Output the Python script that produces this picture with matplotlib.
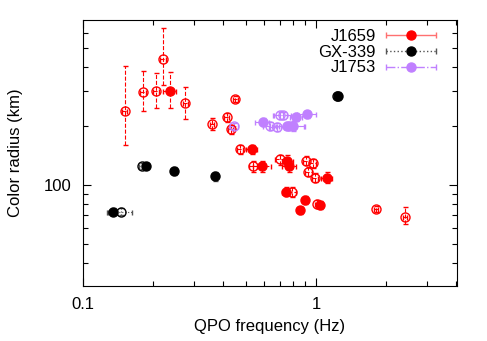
import matplotlib
matplotlib.use('Agg')
import matplotlib.pyplot as plt
from matplotlib.ticker import LogLocator, NullFormatter, FixedLocator, FixedFormatter
from matplotlib.legend_handler import HandlerErrorbar
from matplotlib.container import ErrorbarContainer

plt.rcParams['font.family'] = ['Liberation Sans', 'DejaVu Sans']
plt.rcParams['font.size'] = 12

# J1659 (red)
j1659_open_x = [0.151, 0.181, 0.206, 0.221, 0.275, 0.358, 0.414, 0.431, 0.451, 0.472,
                0.538, 0.700, 0.906, 0.968, 0.927, 0.990, 0.787, 1.015, 1.81, 2.41]
j1659_open_y = [239, 298, 301, 441, 261, 205, 221, 192, 275, 152,
                125, 135, 133, 129, 117, 109, 92.1, 80.0, 75.5, 68.9]
j1659_open_ylo = [79, 59, 54, 117, 44, 14, 12, 10, 10, 8, 8, 8, 7, 7, 6, 6, 5, 4, 3, 6]
j1659_open_yhi = [167, 85, 73, 189, 56, 15, 13, 11, 11, 8, 8, 8, 7, 7, 6, 6, 5, 4, 3, 8]
j1659_open_xerr = [0.004, 0.006, 0.006, 0.006, 0.006, 0.008, 0.01, 0.01, 0.01, 0.012,
                   0.02, 0.03, 0.03, 0.03, 0.03, 0.03, 0.03, 0.02, 0.04, 0.04]

j1659_fill_x = [0.236, 0.530, 0.589, 0.753, 0.768, 1.111, 0.744, 0.900, 0.851, 1.040]
j1659_fill_y = [301, 152, 125, 133, 125, 109, 92.4, 83.8, 74.3, 79.3]
j1659_fill_ylo = [54, 8, 8, 9, 8, 7, 5, 4, 3, 4]
j1659_fill_yhi = [77, 8, 8, 9, 8, 8, 5, 4, 3, 4]
j1659_fill_xerr = [0.015, 0.03, 0.05, 0.04, 0.05, 0.06, 0.03, 0.02, 0.02, 0.03]

# GX-339 (black)
gx_open_x = [0.145, 0.179, 1.23]
gx_open_y = [73.1, 125, 284]
gx_open_yerr = [3, 5, 14]
gx_open_xerr = [0.018, 0.005, 0.02]

gx_fill_x = [0.134, 0.186, 0.246, 0.369, 1.243]
gx_fill_y = [73.1, 125, 118, 111, 284]
gx_fill_yerr = [3, 5, 6, 6, 14]
gx_fill_xerr = [0.006, 0.005, 0.004, 0.006, 0.02]

# J1753 (purple)
j1753_open_x = [0.445, 0.635, 0.678, 0.701, 0.722, 0.765]
j1753_open_y = [200, 200, 198, 227, 227, 201]
j1753_open_yerr = [8, 9, 9, 10, 10, 9]
j1753_open_xerr = [0.02, 0.04, 0.05, 0.05, 0.06, 0.12]

j1753_fill_x = [0.590, 0.749, 0.793, 0.821, 0.915]
j1753_fill_y = [210, 200, 200, 223, 229]
j1753_fill_yerr = [9, 10, 11, 10, 10]
j1753_fill_xerr = [0.04, 0.04, 0.10, 0.05, 0.09]

red = '#ff0000'
purple = '#c080ff'


def draw(ax, x, y, xerr, yerr, color, ls, filled, ecolor=None):
    eb = ax.errorbar(x, y, xerr=xerr, yerr=yerr, fmt='o', ms=6.5,
                     mfc=color if filled else 'none', mec=color, mew=1.0,
                     ecolor=ecolor or color, elinewidth=0.8, capsize=1.8, capthick=0.8)
    for b in eb[2]:
        b.set_linestyle(ls)
    return eb


fig = plt.figure(figsize=(4.87, 3.41), dpi=100)
ax = fig.add_axes([0.1704, 0.1613, 0.768, 0.78])

draw(ax, j1659_open_x, j1659_open_y, j1659_open_xerr, [j1659_open_ylo, j1659_open_yhi], red, '--', False)
draw(ax, j1659_fill_x, j1659_fill_y, j1659_fill_xerr, [j1659_fill_ylo, j1659_fill_yhi], red, '--', True)
draw(ax, gx_open_x, gx_open_y, gx_open_xerr, gx_open_yerr, 'black', ':', False, '#555555')
draw(ax, gx_fill_x, gx_fill_y, gx_fill_xerr, gx_fill_yerr, 'black', ':', True, '#555555')
draw(ax, j1753_open_x, j1753_open_y, j1753_open_xerr, j1753_open_yerr, purple, '-.', False)
draw(ax, j1753_fill_x, j1753_fill_y, j1753_fill_xerr, j1753_fill_yerr, purple, '-.', True)

# legend proxies: horizontal bar with caps and a filled marker
nan = float('nan')
h1 = ax.errorbar([nan], [nan], xerr=[1], fmt='o', ms=6.5, color=red, ecolor='#ff7070',
                 elinewidth=1.0, capsize=2, label='J1659')
h2 = ax.errorbar([nan], [nan], xerr=[1], fmt='o', ms=6.5, color='black', ecolor='#555555',
                 elinewidth=1.0, capsize=2, label='GX-339')
h2[2][0].set_linestyle(':')
h3 = ax.errorbar([nan], [nan], xerr=[1], fmt='o', ms=6.5, color=purple, ecolor=purple,
                 elinewidth=1.0, capsize=2, label='J1753')
h3[2][0].set_linestyle('-.')

ax.legend(handles=[h1, h2, h3], loc='upper right', bbox_to_anchor=(0.944, 0.967),
          frameon=False, markerfirst=False, handlelength=3, handletextpad=0.6,
          labelspacing=0.05, borderpad=0, borderaxespad=0,
          handler_map={ErrorbarContainer: HandlerErrorbar(xerr_size=1.5)})

ax.set_xscale('log')
ax.set_yscale('log')
ax.set_xlim(0.1, 4.03)
ax.set_ylim(30.5, 695)

ax.xaxis.set_major_locator(FixedLocator([0.1, 1]))
ax.xaxis.set_major_formatter(FixedFormatter(['0.1', '1']))
ax.xaxis.set_minor_locator(LogLocator(base=10, subs=range(2, 10)))
ax.xaxis.set_minor_formatter(NullFormatter())
ax.yaxis.set_major_locator(FixedLocator([100]))
ax.yaxis.set_major_formatter(FixedFormatter(['100']))
ax.yaxis.set_minor_locator(LogLocator(base=10, subs=range(2, 10)))
ax.yaxis.set_minor_formatter(NullFormatter())

ax.tick_params(which='both', direction='in', top=True, right=True, width=0.8)
ax.tick_params(which='major', length=6)
ax.tick_params(which='minor', length=3.5)
ax.tick_params(axis='x', pad=8)
ax.tick_params(axis='y', pad=8)

ax.set_xlabel('QPO frequency (Hz)')
ax.set_ylabel('Color radius (km)')
ax.xaxis.set_label_coords(0.5, -0.125)
ax.yaxis.set_label_coords(-0.16, 0.5)

fig.savefig('out.png', dpi=100)
